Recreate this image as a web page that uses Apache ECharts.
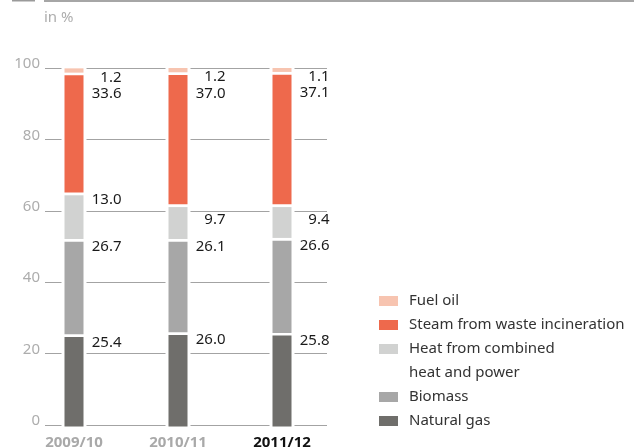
<!DOCTYPE html>
<html>
<head>
<meta charset="utf-8">
<script src="https://cdn.jsdelivr.net/npm/echarts@6/dist/echarts.min.js"></script>
<style>
html,body{margin:0;padding:0;background:#fff;}
#chart{width:634px;height:447px;}
</style>
</head>
<body>
<div id="chart"></div>
<script>
// ---- data ----
var categories = ['2009/10', '2010/11', '2011/12'];
var naturalGas = [25.4, 26.0, 25.8];
var biomass = [26.7, 26.1, 26.6];
var heatCHP = [13.0, 9.7, 9.4];
var steamWaste = [33.6, 37.0, 37.1];
var fuelOil = [1.2, 1.2, 1.1];
var yTicks = [0, 20, 40, 60, 80, 100];

var seriesNames = ['Natural gas', 'Biomass', 'Heat from combined heat and power', 'Steam from waste incineration', 'Fuel oil'];
var seriesValues = [naturalGas, biomass, heatCHP, steamWaste, fuelOil];

// ---- styling / layout ----
var colors = ['#6f6e6b', '#a7a7a7', '#d1d2d1', '#ee694c', '#f7c4b0'];
var labelDy = [[8, 8, 8], [7.5, 7.5, 7.5], [7.5, 15.6, 15.6], [21, 21, 21], [9, 9, 9]];
var FONT = '"Noto Sans", "Open Sans", sans-serif';
var BAR_W = 19, WHITE_W = 25, GAP = 2.7, LABEL_DX = 47.5;

var chart = echarts.init(document.getElementById('chart'), null, {renderer: 'canvas'});

// cumulative bases for the stack (built from the data arrays)
var bases = categories.map(function () { return 0; });
var series = seriesNames.map(function (name, s) {
  var data = seriesValues[s].map(function (v, i) {
    var b = bases[i];
    bases[i] = b + v;
    return [i, b, b + v, v];
  });
  var isFirst = s === 0, isLast = s === seriesNames.length - 1;
  return {
    name: name,
    type: 'custom',
    xAxisIndex: 1,
    yAxisIndex: 1,
    itemStyle: {color: colors[s]},
    encode: {x: 0, y: [1, 2]},
    data: data,
    renderItem: function (params, api) {
      var i = api.value(0);
      var pTop = api.coord([i, api.value(2)]);
      var pBot = api.coord([i, api.value(1)]);
      var cx = pTop[0];
      var inset = isLast ? 0 : GAP;
      var extraBottom = isFirst ? 1.5 : 0;
      var extraTop = isLast ? 1 : 0;
      return {
        type: 'group',
        children: [
          {type: 'rect', shape: {x: cx - WHITE_W / 2, y: pTop[1] - extraTop, width: WHITE_W, height: pBot[1] - pTop[1] + extraTop + extraBottom + 0.5}, style: {fill: '#ffffff'}},
          {type: 'rect', shape: {x: cx - BAR_W / 2, y: pTop[1] + inset, width: BAR_W, height: pBot[1] - pTop[1] - inset + extraBottom}, style: {fill: colors[s]}},
          {type: 'text', x: cx + LABEL_DX, y: pTop[1] + labelDy[s][i], style: {text: api.value(3).toFixed(1), fill: '#1a1a1a', font: '15px ' + FONT, align: 'right', verticalAlign: 'middle'}}
        ]
      };
    }
  };
});

var option = {
  animation: false,
  backgroundColor: '#ffffff',
  grid: [
    {left: 45, right: 307, top: 68, bottom: 22, outerBoundsMode: 'none', containLabel: false},
    {left: 22, right: 300, top: 68, bottom: 22, outerBoundsMode: 'none', containLabel: false}
  ],
  xAxis: [
    {gridIndex: 0, type: 'value', show: false, min: 0, max: 1},
    {
      gridIndex: 1, type: 'category', data: categories,
      axisLine: {show: false}, axisTick: {show: false}, splitLine: {show: false},
      axisLabel: {
        margin: 10,
        formatter: function (v, i) { return i === categories.length - 1 ? '{b|' + v + '}' : '{a|' + v + '}'; },
        rich: {
          a: {color: '#a9a9a9', fontWeight: 'bold', fontSize: 15, fontFamily: FONT},
          b: {color: '#111111', fontWeight: 'bold', fontSize: 15, fontFamily: FONT}
        }
      }
    }
  ],
  yAxis: [
    {
      gridIndex: 0, type: 'value', min: yTicks[0], max: yTicks[yTicks.length - 1], interval: yTicks[1] - yTicks[0],
      axisLine: {show: false}, axisTick: {show: false},
      splitLine: {show: true, lineStyle: {color: '#a3a3a3', width: 1}},
      axisLabel: {color: '#adadad', fontSize: 15, fontFamily: FONT, margin: 5, verticalAlign: 'bottom', lineHeight: 8}
    },
    {gridIndex: 1, type: 'value', min: 0, max: 100, show: false}
  ],
  legend: [
    {
      orient: 'vertical', left: 379, top: 289, padding: 0, itemGap: 0,
      itemWidth: 19, itemHeight: 10, icon: 'rect',
      itemStyle: {borderWidth: 0},
      selectedMode: false,
      data: ['Fuel oil', 'Steam from waste incineration', 'Heat from combined heat and power'],
      formatter: function (n) { return n === 'Heat from combined heat and power' ? 'Heat from combined' : n; },
      textStyle: {color: '#333333', fontSize: 15, fontFamily: FONT, lineHeight: 24, padding: [0, 0, 0, 6]}
    },
    {
      orient: 'vertical', left: 379, top: 385, padding: 0, itemGap: 0,
      itemWidth: 19, itemHeight: 10, icon: 'rect',
      itemStyle: {borderWidth: 0},
      selectedMode: false,
      data: ['Biomass', 'Natural gas'],
      textStyle: {color: '#333333', fontSize: 15, fontFamily: FONT, lineHeight: 24, padding: [0, 0, 0, 6]}
    }
  ],
  graphic: [
    {type: 'rect', shape: {x: 44, y: 0, width: 590, height: 2}, style: {fill: '#a6a6a6'}},
    {type: 'rect', shape: {x: 12, y: 0, width: 23, height: 1.5}, style: {fill: '#9a9a9a'}},
    {type: 'text', x: 44, y: 18, style: {text: 'in %', fill: '#adadad', font: '15px ' + FONT, verticalAlign: 'middle'}},
    {type: 'text', x: 409, y: 373, style: {text: 'heat and power', fill: '#333333', font: '15px ' + FONT, verticalAlign: 'middle'}}
  ],
  series: series
};
chart.setOption(option);
</script>
</body>
</html>
